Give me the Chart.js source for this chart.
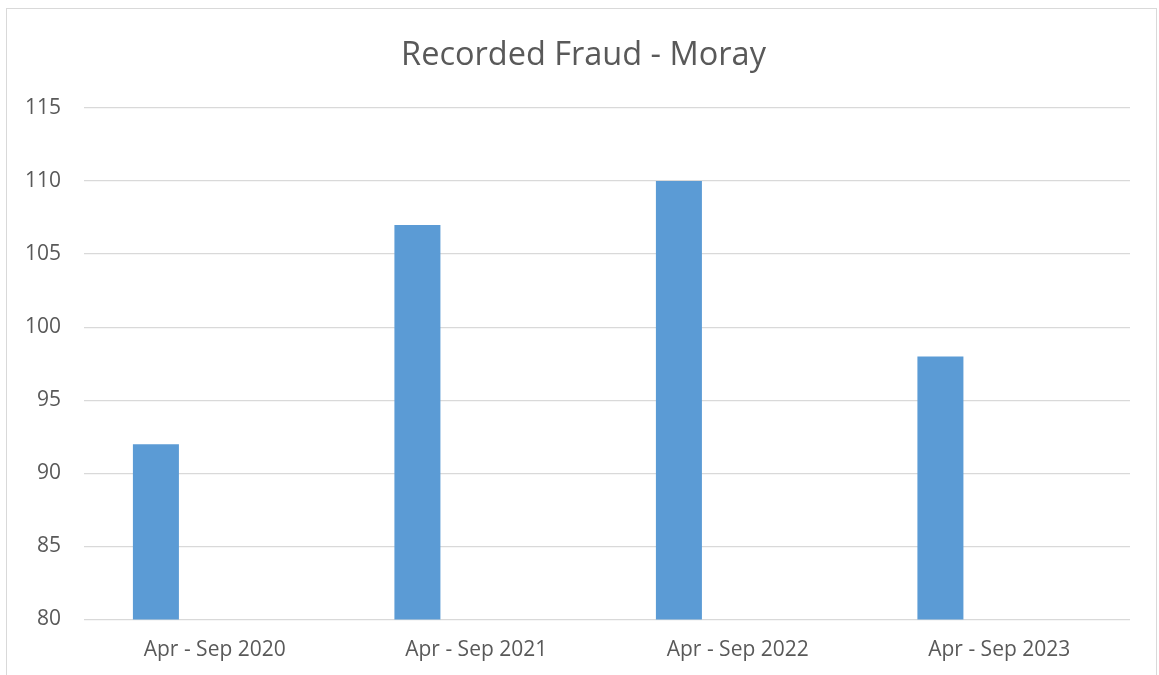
<!DOCTYPE html>
<html>
<head>
<meta charset="utf-8">
<script src="https://cdn.jsdelivr.net/npm/chart.js@4.4.1/dist/chart.umd.min.js"></script>
<style>
  html, body { margin: 0; padding: 0; background: #ffffff; overflow: hidden; width: 1159px; height: 675px; }
  #frame { position: absolute; left: 6px; top: 8px; width: 1151px; height: 720px; border: 1px solid #d9d9d9; box-sizing: border-box; }
  #c { position: absolute; left: 0; top: 0; }
</style>
</head>
<body>
<div id="frame"></div>
<canvas id="c" width="1159" height="675"></canvas>
<script>
const categories = ['Apr - Sep 2020', 'Apr - Sep 2021', 'Apr - Sep 2022', 'Apr - Sep 2023'];
const recordedFraud = [92, 107, 110, 98];
const emptySeries = [null, null, null, null];
const yMin = 80;
const yMax = 115;
const yStep = 5;
const chartTitle = 'Recorded Fraud - Moray';

const textColor = '#595959';
const fontFamily = '"Open Sans", "Liberation Sans", sans-serif';

const titlePlugin = {
  id: 'fixedTitle',
  afterDraw(chart) {
    const ctx = chart.ctx;
    ctx.save();
    ctx.font = '32.5px ' + fontFamily;
    ctx.fillStyle = textColor;
    ctx.textAlign = 'center';
    ctx.textBaseline = 'alphabetic';
    ctx.fillText(chartTitle, 583.5, 65);
    ctx.restore();
  }
};

new Chart(document.getElementById('c'), {
  type: 'bar',
  data: {
    labels: categories,
    datasets: [
      {
        label: 'Recorded Fraud',
        data: recordedFraud,
        backgroundColor: '#5B9BD5',
        borderWidth: 0,
        categoryPercentage: 0.9,
        barPercentage: 0.391
      },
      {
        label: '',
        data: emptySeries,
        backgroundColor: '#ED7D31',
        borderWidth: 0,
        categoryPercentage: 0.9,
        barPercentage: 0.391
      }
    ]
  },
  plugins: [titlePlugin],
  options: {
    responsive: false,
    animation: false,
    layout: { padding: { left: 10, right: 29, top: 108, bottom: 0 } },
    plugins: {
      legend: { display: false },
      tooltip: { enabled: false },
      title: { display: false }
    },
    scales: {
      x: {
        grid: { display: false, drawTicks: false },
        border: { display: false },
        ticks: {
          color: textColor,
          font: { family: fontFamily, size: 21 },
          padding: 18,
          maxRotation: 0
        },
        afterFit: (scale) => { scale.height = 55.5; }
      },
      y: {
        min: yMin,
        max: yMax,
        ticks: {
          stepSize: yStep,
          color: textColor,
          font: { family: fontFamily, size: 21 },
          padding: 23
        },
        grid: { color: '#d9d9d9', lineWidth: 1.3, drawTicks: false },
        border: { display: false },
        afterFit: (scale) => { scale.width = 74; }
      }
    }
  }
});
</script>
</body>
</html>
